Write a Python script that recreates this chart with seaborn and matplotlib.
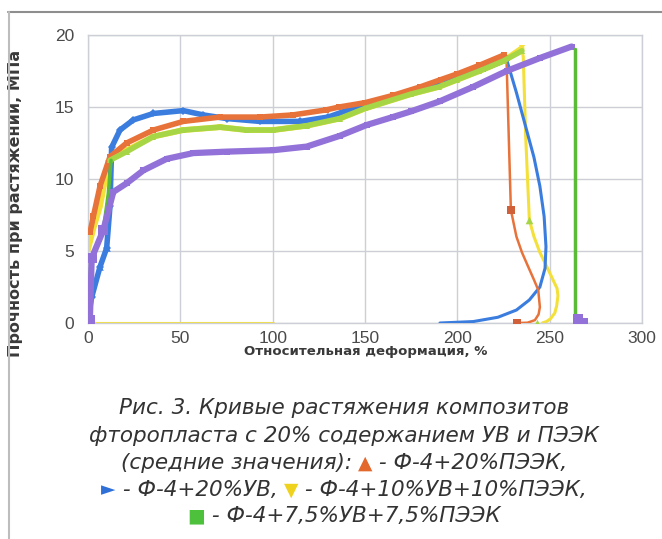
import numpy as np
import pandas as pd
import matplotlib
matplotlib.use("Agg")
import matplotlib.pyplot as plt
from matplotlib.lines import Line2D
import seaborn as sns

# ---------------- data ----------------
# Ф-4+20%УВ (blue)
blue_x = [0, 2, 6.5, 10.1, 11.9, 12.8, 17.3, 24.5, 35.4, 51.6, 62.4, 75, 93, 115, 130, 150, 175, 200, 215, 226.7]
blue_y = [0.3, 1.8, 3.9, 5.2, 8.1, 12.2, 13.4, 14.1, 14.55, 14.75, 14.45, 14.2, 14.0, 14.0, 14.3, 15.2, 16.1, 17.1, 17.7, 18.3]
blue_drop_x = [226.7, 232, 237.5, 241.5, 244.7, 247, 248, 247.5, 244.7, 239, 232, 222, 208.6, 190.6]
blue_drop_y = [18.3, 16.0, 13.4, 11.5, 9.5, 7.4, 5.3, 3.8, 2.5, 1.6, 0.9, 0.4, 0.1, 0.0]
blue_mark_x = [6.5, 10.1]
blue_mark_y = [3.9, 5.2]

# Ф-4+20%ПЭЭК (orange)
orange_x = [1.1, 2.9, 6.5, 11.9, 20.9, 35.4, 51.6, 71.5, 93.1, 111, 129, 136, 150, 165, 180, 191, 200, 212, 225]
orange_y = [6.3, 7.4, 9.5, 11.55, 12.5, 13.4, 14.0, 14.3, 14.3, 14.45, 14.8, 15.0, 15.3, 15.8, 16.4, 16.9, 17.3, 17.9, 18.6]
orange_drop_x = [225, 226.7, 229, 232, 235, 238.4, 241.5, 243.8, 244.7, 244, 242, 238, 232.5]
orange_drop_y = [18.6, 18.0, 7.85, 6.0, 4.9, 3.9, 3.0, 2.3, 1.1, 0.6, 0.2, 0.02, 0.0]
orange_mark_x = [229, 232.5]
orange_mark_y = [7.85, 0.0]

# Ф-4+10%УВ+10%ПЭЭК (yellow)
yellow_x = [0, 3, 6.5, 11, 14, 20.9, 35.4, 51.6, 71.5, 85.9, 100.3, 118.4, 136.4, 150, 175, 190, 200, 212, 225, 234.8]
yellow_y = [5.1, 6.6, 8.1, 11.1, 11.6, 12.0, 12.95, 13.4, 13.6, 13.4, 13.4, 13.7, 14.2, 14.9, 15.9, 16.4, 16.9, 17.5, 18.2, 19.07]
yellow_base_x = [0, 100]
yellow_base_y = [0, 0]
yellow_drop_x = [234.8, 235.7, 237, 239, 241.5, 244.7, 248.5, 251.8, 254, 254.5, 253.8, 252.8, 250.5, 248.3, 246]
yellow_drop_y = [19.07, 18.5, 13.0, 7.15, 6.0, 4.9, 3.9, 3.0, 2.4, 1.9, 1.2, 0.7, 0.3, 0.1, 0.0]

# Ф-4+7,5%УВ+7,5%ПЭЭК (green / lime)
lime_x = [11.9, 20.9, 35.4, 51.6, 71.5, 85.9, 100.3, 118.4, 136.4, 150, 175, 190, 200, 212, 225, 235]
lime_y = [11.3, 11.9, 12.95, 13.4, 13.6, 13.4, 13.4, 13.7, 14.2, 14.9, 15.9, 16.4, 16.9, 17.5, 18.2, 18.9]
green_x = [0, 0.5, 1.5, 2.9, 8.3, 11, 12.5]
green_y = [0, 1.8, 4.2, 4.8, 6.5, 9.0, 11.3]
green_drop_x = [263.7, 263.7]
green_drop_y = [19.0, 0.35]
green_mark_x = [0.5, 239, 242.9]
green_mark_y = [1.8, 7.15, 0.0]

# fifth curve (purple)
purple_x = [1, 2, 8.3, 13.7, 20.9, 30, 42.6, 57, 75.1, 100.3, 118.4, 136.4, 150.9, 165, 175, 190.6, 208.6, 226.7, 244.7, 261.9]
purple_y = [0.2, 4.5, 6.45, 9.1, 9.7, 10.6, 11.4, 11.8, 11.9, 12.0, 12.25, 13.0, 13.75, 14.3, 14.7, 15.4, 16.4, 17.5, 18.4, 19.2]
purple_end_x = [265.5, 268]
purple_end_y = [0.3, 0.0]

x_ticks = [0, 50, 100, 150, 200, 250, 300]
y_ticks = [0, 5, 10, 15, 20]
xlabel = "Относительная деформация, %"
ylabel = "Прочность при растяжении, МПа"
caption = [
    [("Рис. 3. Кривые растяжения композитов", "#333333", False)],
    [("фторопласта с 20% содержанием УВ и ПЭЭК", "#333333", False)],
    [("(средние значения):", "#333333", False), (" ▲", "#E2682C", True), (" - Ф-4+20%ПЭЭК,", "#333333", False)],
    [("►", "#2E6FD8", True), (" - Ф-4+20%УВ,", "#333333", False), (" ▼", "#EFD21E", True),
     (" - Ф-4+10%УВ+10%ПЭЭК,", "#333333", False)],
    [("■", "#4DC03C", True), (" - Ф-4+7,5%УВ+7,5%ПЭЭК", "#333333", False)],
]

# ---------------- colours ----------------
C_BLUE = "#3A7DDE"
C_ORANGE = "#E8733A"
C_YELLOW = "#F4E03A"
C_LIME = "#A6D646"
C_GREEN = "#5CBB36"
C_PURPLE = "#9272D8"

sns.set_theme(style="whitegrid")
plt.rcParams["font.family"] = ["Liberation Sans", "DejaVu Sans"]

W, H = 662, 539
fig = plt.figure(figsize=(W / 100, H / 100), dpi=100, facecolor="white")
ax = fig.add_axes([88 / W, 1 - 323 / H, (642 - 88) / W, (323 - 35) / H])
ax.set_facecolor("white")


def line(x, y, color, lw, marker=None, ms=0, z=2):
    d = pd.DataFrame({"x": x, "y": y})
    sns.lineplot(data=d, x="x", y="y", ax=ax, sort=False, estimator=None, color=color,
                 linewidth=lw, marker=marker, markersize=ms, markeredgewidth=0,
                 zorder=z, legend=False)


def marks(x, y, color, marker, s, z=5):
    d = pd.DataFrame({"x": x, "y": y})
    sns.scatterplot(data=d, x="x", y="y", ax=ax, color=color, marker=marker, s=s,
                    linewidth=0, zorder=z, legend=False)


# yellow
line(yellow_base_x, yellow_base_y, C_YELLOW, 2.2, z=2)
line(yellow_x, yellow_y, C_YELLOW, 4.2, marker="v", ms=5, z=2)
line(yellow_drop_x, yellow_drop_y, C_YELLOW, 2.2, z=2)
# blue
line(blue_x, blue_y, C_BLUE, 4, marker="D", ms=4, z=3)
line(blue_drop_x, blue_drop_y, C_BLUE, 2.2, z=3)
marks(blue_mark_x, blue_mark_y, C_BLUE, "^", 22)
# orange
line(orange_x, orange_y, C_ORANGE, 4, marker="s", ms=4, z=4)
line(orange_drop_x, orange_drop_y, C_ORANGE, 1.8, z=4)
marks(orange_mark_x, orange_mark_y, "#D0603A", "s", 30)
# lime / green
line(lime_x, lime_y, C_LIME, 4, marker="^", ms=5, z=4)
line(green_x, green_y, C_GREEN, 2.5, z=4)
line(green_drop_x, green_drop_y, C_GREEN, 2.5, z=6)
marks(green_mark_x, green_mark_y, C_LIME, "^", 30)
# purple
line(purple_x, purple_y, C_PURPLE, 4.5, marker="s", ms=5, z=5)
line(purple_end_x, purple_end_y, C_PURPLE, 2.5, z=7)
marks(purple_end_x + purple_x[:3], purple_end_y + purple_y[:3], C_PURPLE, "s", 45, z=7)

# axes styling
ax.set_xlim(0, 300)
ax.set_ylim(0, 20)
ax.set_xticks(x_ticks)
ax.set_yticks(y_ticks)
ax.grid(True, color="#CCD0D6", linewidth=1.0)
for sp in ax.spines.values():
    sp.set_color("#CCD0D6")
    sp.set_linewidth(1.0)
ax.tick_params(axis="both", length=0, labelsize=12.5, labelcolor="#4A4A4A")
ax.tick_params(axis="x", pad=6)
ax.tick_params(axis="y", pad=10)
ax.set_xlabel(xlabel, fontsize=9.5, fontweight="bold", color="#3A3A3A", family="DejaVu Sans")
ax.set_ylabel(ylabel, fontsize=11.5, fontweight="bold", color="#3A3A3A", family="DejaVu Sans")
ax.xaxis.set_label_coords((366 - 88) / 554, (323 - 352) / 288)
ax.xaxis.label.set_va("center")
ax.yaxis.set_label_coords((16 - 88) / 554, (323 - 203) / 288)
ax.yaxis.label.set_va("center")

# frame lines of the scanned page
fig.add_artist(Line2D([8 / W, 1], [1 - 12 / H, 1 - 12 / H], transform=fig.transFigure,
                      color="#8E8E8E", linewidth=1.5))
fig.add_artist(Line2D([9 / W, 9 / W], [0, 1 - 12 / H], transform=fig.transFigure,
                      color="#BDBDBD", linewidth=1.5))

# caption
renderer = fig.canvas.get_renderer()
line_y = [408, 436, 463, 490, 516]
cx = 344
for pieces, yc in zip(caption, line_y):
    objs = []
    for s, col, is_sym in pieces:
        if is_sym:
            t = fig.text(0, 1 - yc / H, s, color=col, fontsize=13.5, va="center", ha="left",
                         family=["DejaVu Sans"])
        else:
            t = fig.text(0, 1 - yc / H, s, color=col, fontsize=15.5, style="italic",
                         va="center", ha="left", family=["DejaVu Sans"])
        objs.append(t)
    widths = [t.get_window_extent(renderer).width for t in objs]
    x0 = cx - sum(widths) / 2
    for t, w in zip(objs, widths):
        t.set_x(x0 / W)
        x0 += w

fig.savefig("out.png", dpi=100, facecolor="white")
